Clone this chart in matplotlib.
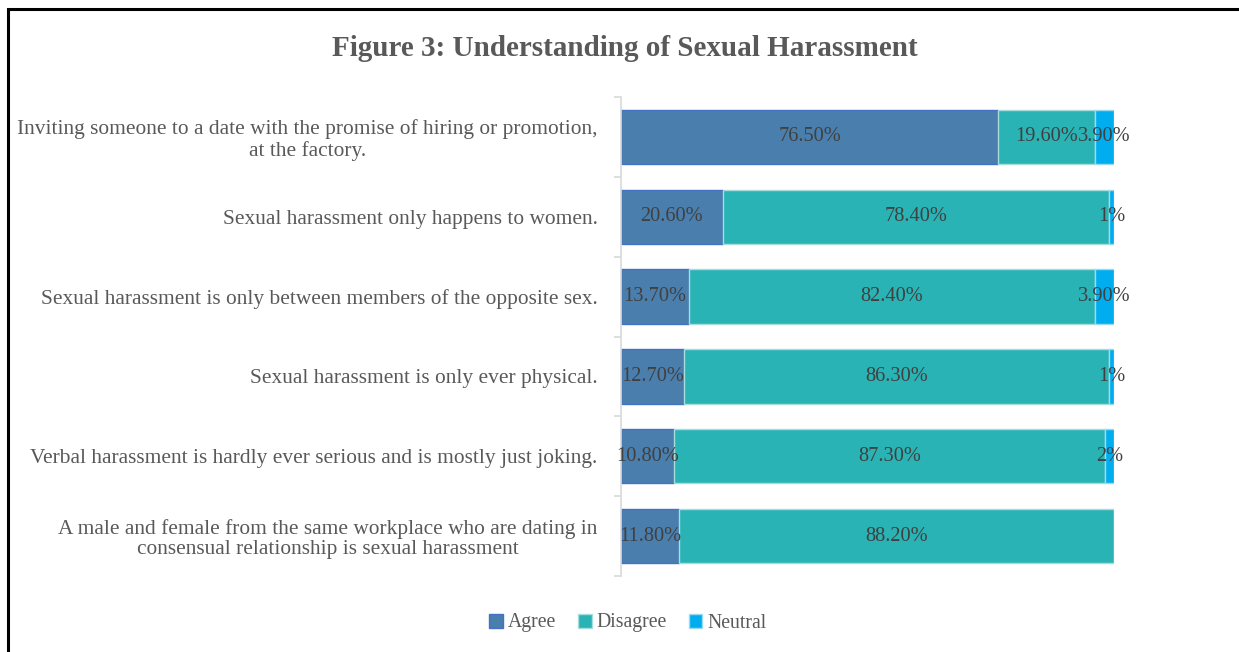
import matplotlib
matplotlib.use("Agg")
import matplotlib.pyplot as plt
from matplotlib.patches import Rectangle
from matplotlib.ticker import FixedLocator

plt.rcParams['font.family'] = ['Liberation Serif', 'DejaVu Serif']

statements = [
    "Inviting someone to a date with the promise of hiring or promotion,\nat the factory.",
    "Sexual harassment only happens to women.",
    "Sexual harassment is only between members of the opposite sex.",
    "Sexual harassment is only ever physical.",
    "Verbal harassment is hardly ever serious and is mostly just joking.",
    "A male and female from the same workplace who are dating in\nconsensual relationship is sexual harassment",
]
agree = [76.5, 20.6, 13.7, 12.7, 10.8, 11.8]
disagree = [19.6, 78.4, 82.4, 86.3, 87.3, 88.2]
neutral = [3.9, 1.0, 3.9, 1.0, 2.0, 0.0]
agree_labels = ["76.50%", "20.60%", "13.70%", "12.70%", "10.80%", "11.80%"]
disagree_labels = ["19.60%", "78.40%", "82.40%", "86.30%", "87.30%", "88.20%"]
neutral_labels = ["3.90%", "1%", "3.90%", "1%", "2%", ""]

series = [
    ("Agree", agree, agree_labels, "#4A7EAD", "#4472C4"),
    ("Disagree", disagree, disagree_labels, "#2AB3B5", "#A9DCDD"),
    ("Neutral", neutral, neutral_labels, "#00AEEF", "#9ED9F2"),
]

W, H = 1239, 652
fig = plt.figure(figsize=(W / 100, H / 100), dpi=100)
ax = fig.add_axes([621 / W, 1 - 576 / H, 493 / W, (576 - 97) / H])

ypos = list(range(len(statements)))
left = [0.0] * len(statements)
for name, vals, labs, face, edge in series:
    bars = ax.barh(ypos, vals, left=left, height=0.68, color=face,
                   edgecolor=edge, linewidth=1.0, label=name)
    for b, v, lab, l0 in zip(bars, vals, labs, left):
        if v <= 0:
            continue
        ax.text(l0 + v / 2, b.get_y() + b.get_height() / 2, lab,
                ha='center', va='center', fontsize=14.7, color='#404040')
    left = [a + b for a, b in zip(left, vals)]

ax.set_xlim(0, 100)
ax.set_ylim(len(statements) - 0.5, -0.5)
ax.xaxis.set_visible(False)
for s in ('top', 'right', 'bottom'):
    ax.spines[s].set_visible(False)
ax.spines['left'].set_color('#D9D9D9')
ax.spines['left'].set_linewidth(1.2)

ax.yaxis.set_major_locator(FixedLocator(ypos))
ax.set_yticklabels(statements, fontsize=15.4, color='#595959',
                   multialignment='center', linespacing=1.1)
ax.tick_params(axis='y', which='major', length=0, pad=17)
ax.yaxis.set_minor_locator(FixedLocator([i - 0.5 for i in range(len(statements) + 1)]))
ax.tick_params(axis='y', which='minor', length=5, color='#D9D9D9', width=1.2)

fig.text(625 / W, 1 - 49 / H, "Figure 3: Understanding of Sexual Harassment",
         ha='center', va='center', fontsize=21, fontweight='bold', color='#595959')

leg = fig.legend(loc='center', bbox_to_anchor=(628 / W, 1 - 623 / H), ncol=3,
                 frameon=False, fontsize=14.2, handlelength=0.7, handleheight=0.7,
                 handletextpad=0.25, columnspacing=1.1, labelcolor='#595959')

fig.patches.append(Rectangle((8 / W, -0.05), 1.2, 1 - 9 / H + 0.05,
                             transform=fig.transFigure, fill=False,
                             edgecolor='black', linewidth=2.2))

fig.savefig("out.png", dpi=100)
